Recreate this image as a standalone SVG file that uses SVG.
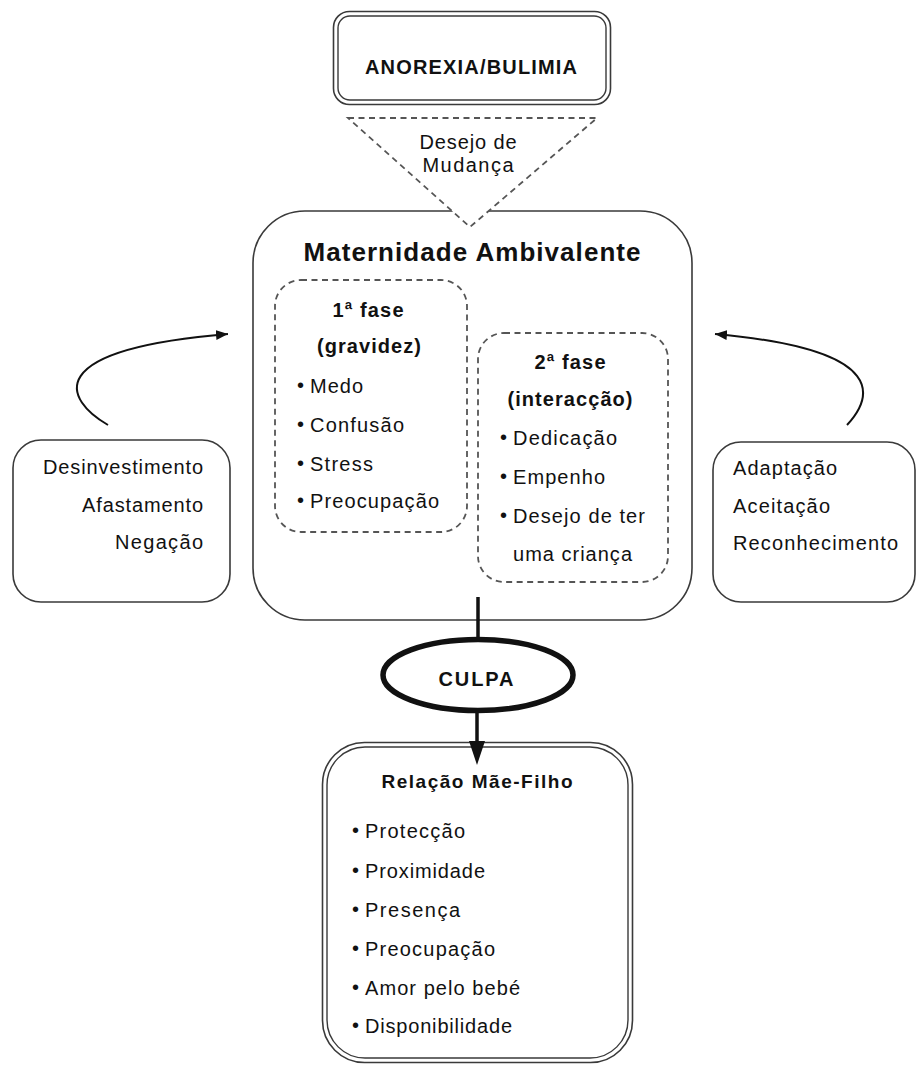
<svg xmlns="http://www.w3.org/2000/svg" width="918" height="1065" viewBox="0 0 918 1065">
<style>
text{font-family:"Liberation Sans",Arial,sans-serif;fill:#111;font-size:20px}
.b{font-weight:bold}
.t{font-size:26px;font-weight:bold}
.r{font-size:19px;font-weight:bold}
.m{text-anchor:middle}
.e{text-anchor:end}
.u{font-size:20px}
.box{fill:#fff;stroke:#3a3a3a;stroke-width:1.6}
.dbl{fill:none;stroke:#3a3a3a;stroke-width:1.4}
.dash{fill:none;stroke:#555;stroke-width:1.8;stroke-dasharray:6 4.5}
.con{fill:none;stroke:#111}
</style>
<defs>
<marker id="ah" viewBox="0 0 12 10" refX="12" refY="5" markerWidth="12" markerHeight="10" markerUnits="userSpaceOnUse" orient="auto">
<path d="M0,0 L12,5 L0,10 Z" fill="#111"/>
</marker>
</defs>

<g id="anorexia">
<rect class="box" x="333.5" y="11.5" width="277" height="93" rx="16"/>
<rect class="dbl" x="338" y="16" width="268" height="84" rx="12"/>
<text class="b m" x="471" y="74" textLength="212" lengthAdjust="spacing">ANOREXIA/BULIMIA</text>
</g>

<g id="maternidade">
<rect class="box" x="253" y="211" width="439" height="409" rx="52"/>
<text class="t m" x="472" y="261" textLength="337" lengthAdjust="spacing">Maternidade Ambivalente</text>
</g>

<g id="desejo">
<path d="M348,118 L597,118 L470,227 Z" fill="#fff" stroke="none"/>
<path class="dash" d="M348,118 L597,118 L470,227 Z"/>
<text class="m" x="468" y="149" textLength="97" lengthAdjust="spacing">Desejo de</text>
<text class="m" x="468" y="172" textLength="91" lengthAdjust="spacing">Mudança</text>
</g>

<g id="fase1">
<rect class="dash" x="275" y="280" width="192" height="252" rx="26"/>
<text class="b m" x="368" y="317" textLength="71" lengthAdjust="spacing">1ª fase</text>
<text class="b m" x="369" y="353" textLength="104" lengthAdjust="spacing">(gravidez)</text>
<text class="u" x="297" y="392">•</text><text x="310" y="393" textLength="53" lengthAdjust="spacing">Medo</text>
<text class="u" x="297" y="431">•</text><text x="310" y="432" textLength="94" lengthAdjust="spacing">Confusão</text>
<text class="u" x="297" y="470">•</text><text x="310" y="471" textLength="63" lengthAdjust="spacing">Stress</text>
<text class="u" x="297" y="507">•</text><text x="310" y="508" textLength="129" lengthAdjust="spacing">Preocupação</text>
</g>

<g id="fase2">
<rect class="dash" x="478" y="333" width="190" height="249" rx="26"/>
<text class="b m" x="570" y="369" textLength="71" lengthAdjust="spacing">2ª fase</text>
<text class="b m" x="570" y="406" textLength="125" lengthAdjust="spacing">(interacção)</text>
<text class="u" x="500" y="444">•</text><text x="513" y="445" textLength="104" lengthAdjust="spacing">Dedicação</text>
<text class="u" x="500" y="483">•</text><text x="513" y="484" textLength="92" lengthAdjust="spacing">Empenho</text>
<text class="u" x="500" y="522">•</text><text x="513" y="523" textLength="132" lengthAdjust="spacing">Desejo de ter</text>
<text x="513" y="561" textLength="119" lengthAdjust="spacing">uma criança</text>
</g>

<g id="negativos">
<rect class="box" x="13" y="440" width="217" height="162" rx="28"/>
<text class="e" x="203" y="474" textLength="160" lengthAdjust="spacing">Desinvestimento</text>
<text class="e" x="203" y="512" textLength="121" lengthAdjust="spacing">Afastamento</text>
<text class="e" x="203" y="549" textLength="88" lengthAdjust="spacing">Negação</text>
</g>

<g id="positivos">
<rect class="box" x="713" y="442" width="202" height="160" rx="28"/>
<text x="733" y="475" textLength="104" lengthAdjust="spacing">Adaptação</text>
<text x="733" y="513" textLength="97" lengthAdjust="spacing">Aceitação</text>
<text x="733" y="550" textLength="165" lengthAdjust="spacing">Reconhecimento</text>
</g>

<g id="culpa">
<ellipse cx="478" cy="675" rx="95" ry="35.5" fill="#fff" stroke="#111" stroke-width="5.5"/>
<text class="b m" x="476" y="686" textLength="75" lengthAdjust="spacing">CULPA</text>
</g>

<g id="relacao">
<rect class="box" x="322.5" y="742.5" width="310" height="320" rx="42"/>
<rect class="dbl" x="327" y="747" width="301" height="311" rx="38"/>
<text class="r m" x="477" y="788" textLength="191" lengthAdjust="spacing">Relação Mãe-Filho</text>
<text class="u" x="352" y="837">•</text><text x="365" y="838" textLength="100" lengthAdjust="spacing">Protecção</text>
<text class="u" x="352" y="877">•</text><text x="365" y="878" textLength="120" lengthAdjust="spacing">Proximidade</text>
<text class="u" x="352" y="916">•</text><text x="365" y="917" textLength="95" lengthAdjust="spacing">Presença</text>
<text class="u" x="352" y="955">•</text><text x="365" y="956" textLength="130" lengthAdjust="spacing">Preocupação</text>
<text class="u" x="352" y="994">•</text><text x="365" y="995" textLength="155" lengthAdjust="spacing">Amor pelo bebé</text>
<text class="u" x="352" y="1032">•</text><text x="365" y="1033" textLength="147" lengthAdjust="spacing">Disponibilidade</text>
</g>

<g id="connectors">
<path class="con" stroke-width="2" d="M108,425 C65,400 38,350 228,334" marker-end="url(#ah)"/>
<path class="con" stroke-width="2" d="M847,425 C870,400 895,350 715,334" marker-end="url(#ah)"/>
<line class="con" stroke-width="3.5" x1="478" y1="597" x2="478" y2="637"/>
<line class="con" stroke-width="3.5" x1="477" y1="713" x2="477" y2="745"/>
<path d="M469,741 L485,741 L477,765 Z" fill="#111"/>
</g>
</svg>
